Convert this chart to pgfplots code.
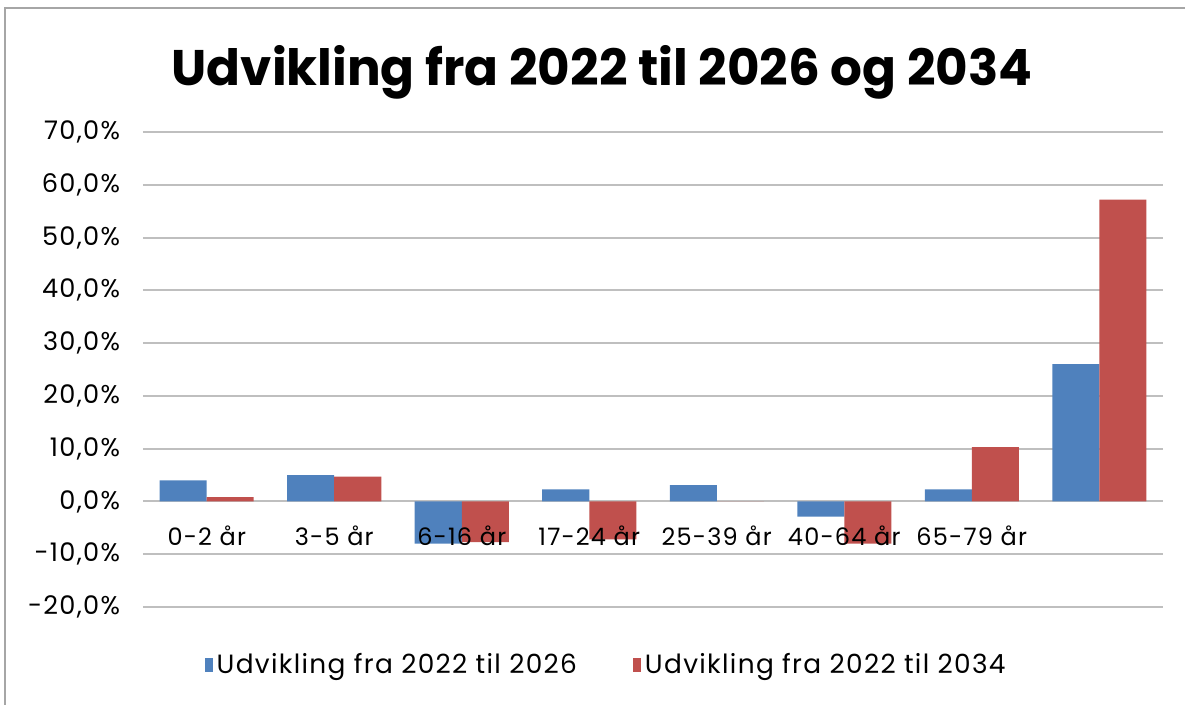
\documentclass[border=0pt]{standalone}
\usepackage{fontspec}
\setmainfont{Poppins}[LetterSpace=5]
\newfontfamily\titlefont{Poppins}
\usepackage{pgfplots}
\pgfplotsset{compat=1.18}
\definecolor{cblue}{HTML}{4F81BD}
\definecolor{cred}{HTML}{C0504D}
\definecolor{grid}{HTML}{8C8C8C}
\begin{document}
\begin{tikzpicture}
\path[use as bounding box] (0,0) rectangle (592.5pt,352.5pt);
\draw[gray!70, line width=1.2pt] (2.5pt,0) -- (2.5pt,348.5pt) -- (592.5pt,348.5pt);
\begin{axis}[
  at={(71.5pt,49pt)}, anchor=south west,
  scale only axis, width=510pt, height=237.5pt,
  ybar=0pt, bar width=23.5pt,
  xmin=-0.5, xmax=7.5, ymin=-20, ymax=70,
  ytick={-20,-10,...,70},
  xtick={0,...,7},
  xticklabels={},
  axis line style={draw=none},
  major tick length=0pt,
  xmajorgrids=false, ymajorgrids=true, grid style={grid, line width=1pt},
  /pgf/number format/assume math mode=true,
  yticklabel={\pgfmathprintnumber[fixed,fixed zerofill,precision=1,use comma]{\tick}\%},
  yticklabel style={font=\fontsize{12.8}{15}\selectfont, xshift=-8pt},
  title={\titlefont\bfseries Udvikling fra 2022 til 2026 og 2034},
  title style={font=\fontsize{25}{30}\selectfont, at={(0.45,1)}, yshift=7pt},
  legend columns=2,
  legend style={draw=none, at={(0.455,-0.122)}, anchor=center, font=\fontsize{13.2}{15}\selectfont, /tikz/every even column/.append style={column sep=26pt}},
  legend image code/.code={\fill[#1] (0pt,-3.5pt) rectangle (4pt,3.5pt);},
  clip=false,
]
\addplot[fill=cblue, draw=none] coordinates {(0,4.0) (1,5.0) (2,-8.0) (3,2.3) (4,3.1) (5,-2.9) (6,2.3) (7,26.0)};
\addplot[fill=cred, draw=none] coordinates {(0,0.8) (1,4.7) (2,-7.7) (3,-7.2) (4,0.0) (5,-8.0) (6,10.3) (7,57.2)};
\legend{Udvikling fra 2022 til 2026, Udvikling fra 2022 til 2034}
\foreach \i/\lab in {0/0-2 år,1/3-5 år,2/6-16 år,3/17-24 år,4/25-39 år,5/40-64 år,6/65-79 år} {
  \edef\tmp{\noexpand\node[anchor=north, font=\noexpand\fontsize{12}{14}\noexpand\selectfont, inner sep=0pt, yshift=-12pt] at (axis cs:\i,0) {\lab};}
  \tmp
}
\end{axis}
\end{tikzpicture}
\end{document}
